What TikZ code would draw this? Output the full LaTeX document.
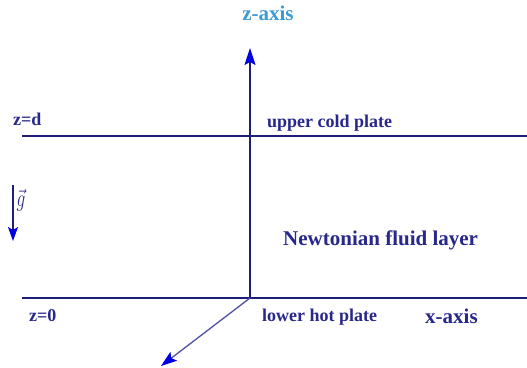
\documentclass[tikz,border=0pt]{standalone}
\usepackage{fontspec}
\setmainfont{Liberation Serif}
\usetikzlibrary{arrows.meta}
\definecolor{txtnavy}{RGB}{40,40,140}
\definecolor{linenavy}{RGB}{30,30,120}
\definecolor{tipblue}{RGB}{0,0,225}
\definecolor{zlabel}{RGB}{60,155,210}
\definecolor{diagline}{RGB}{80,80,160}
\tikzset{
  lbl/.style={inner sep=0pt, text=txtnavy, font=\fontsize{18}{20}\selectfont\bfseries, anchor=base west},
  biglbl/.style={lbl, font=\fontsize{21}{24}\selectfont\bfseries},
  plate/.style={draw=linenavy, line width=1.5pt},
  axisarrow/.style={draw=linenavy, line width=1.5pt, -{Stealth[color=tipblue, length=17pt, width=11pt, inset=3pt]}},
}
\begin{document}
\begin{tikzpicture}[x=1pt, y=-1pt]
\useasboundingbox[fill=white] (0,0) rectangle (527,367);
% coordinates
\coordinate (O) at (250,298);
\coordinate (ztop) at (250,48);
\coordinate (UL) at (22,136);
\coordinate (UR) at (527,136);
\coordinate (LL) at (22,298);
\coordinate (LR) at (527,298);
\coordinate (D) at (161,366);
\coordinate (gs) at (13,185);
\coordinate (ge) at (13,241);
% plates
\draw[plate] (UL) -- (UR);
\draw[plate] (LL) -- (LR);
% axes
\draw[axisarrow] (O) -- (ztop);
\draw[draw=diagline, line width=1.3pt, -{Stealth[color=tipblue, length=16pt, width=11pt, inset=3pt]}] (O) -- (D);
\draw[draw=linenavy, line width=1.5pt, -{Stealth[color=tipblue, length=14pt, width=10pt, inset=3pt]}] (gs) -- (ge);
% labels
\node[biglbl, text=zlabel, anchor=base] (zax) at (268,20) {z-axis};
\node[lbl] (zd) at (13,125) {z=d};
\node[lbl] (ucp) at (267,127) {upper cold plate};
\node[biglbl] (nfl) at (283,245) {Newtonian fluid layer};
\node[lbl] (z0) at (29,321) {z=0};
\node[lbl] (lhp) at (262,321) {lower hot plate};
\node[biglbl] (xax) at (425,323) {x-axis};
\node[inner sep=0pt, text=txtnavy, font=\fontsize{16}{18}\selectfont, yscale=1.4] (g) at (21,200) {$\vec{g}$};
\end{tikzpicture}
\end{document}
